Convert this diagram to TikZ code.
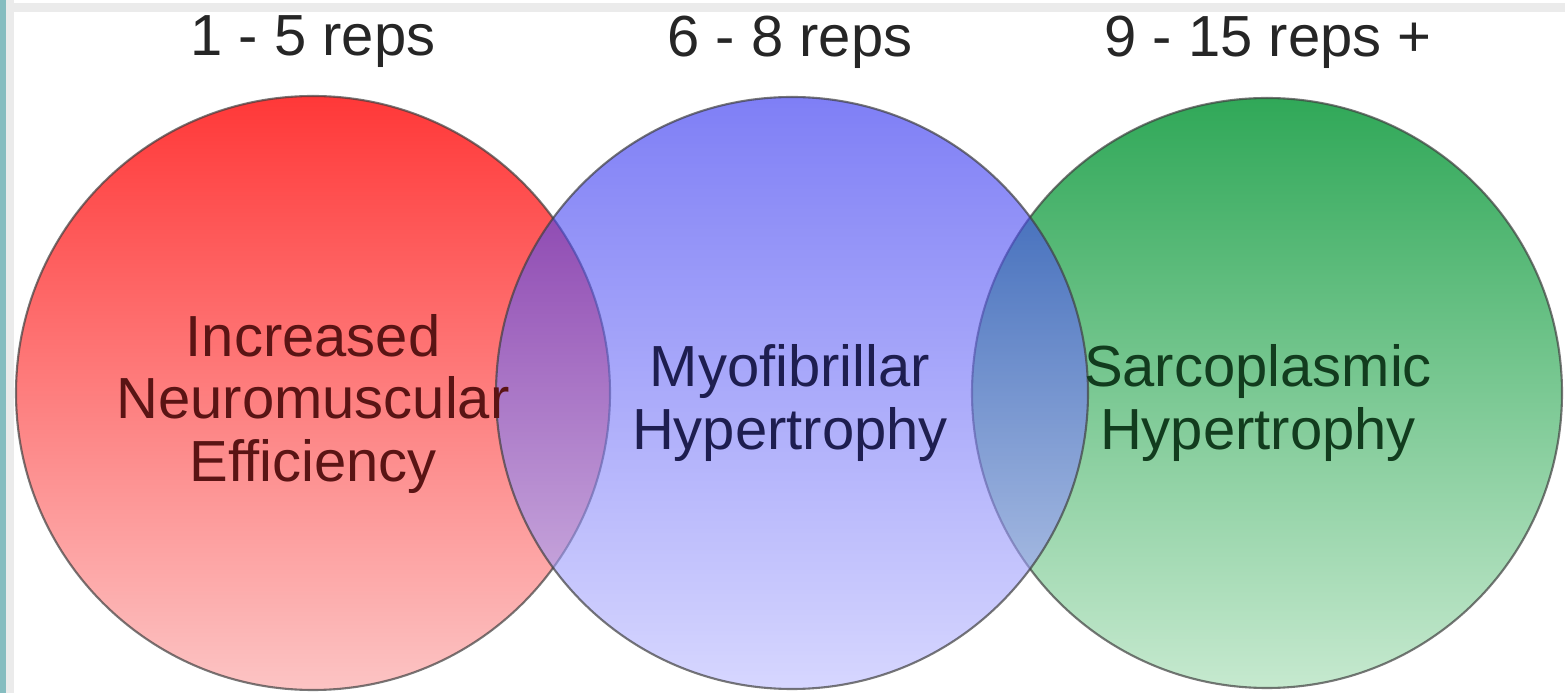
\documentclass[tikz,border=0pt]{standalone}
\usepackage{fontspec}
\setmainfont{Liberation Sans}
\usepackage{tikz}
\usetikzlibrary{positioning}
\definecolor{redtop}{HTML}{FF3838}
\definecolor{redbot}{HTML}{FCC4C4}
\definecolor{bluetop}{HTML}{2A2AF0}
\definecolor{bluebot}{HTML}{BCBCFF}
\definecolor{greentop}{HTML}{30A858}
\definecolor{greenbot}{HTML}{C6E9CF}
\definecolor{redink}{HTML}{5A1414}
\definecolor{blueink}{HTML}{1E1E50}
\definecolor{greenink}{HTML}{123C1E}
\definecolor{teal1}{HTML}{86BDC0}
\definecolor{rule1}{HTML}{EBEBEB}

\begin{document}
\begin{tikzpicture}[x=0.02cm,y=0.02cm,
    reps/.style={font=\fontsize{33}{36}\selectfont,text=black!85},
    label/.style={font=\fontsize{33}{35.5}\selectfont,align=center},
    rim/.style={draw=black!75,line width=1.2pt,draw opacity=0.7}]
  \useasboundingbox (0,0) rectangle (1565,693);
  % frame
  \fill[white] (0,0) rectangle (1565,693);
  \fill[rule1] (0,681) rectangle (1565,690);
  \fill[rule1] (6,0) rectangle (14,693);
  \fill[teal1] (0,0) rectangle (6,693);
  % circles
  \shade[top color=redtop,bottom color=redbot] (313,300) circle (297);
  \draw[rim] (313,300) circle (297);
  \shade[top color=greentop,bottom color=greenbot] (1267,300) circle (295);
  \draw[rim] (1267,300) circle (295);
  \shade[top color=bluetop,bottom color=bluebot,opacity=0.6] (792,300) circle (296);
  \draw[rim] (792,300) circle (296);
  % headings
  \node[reps] (low)  at (313,651) {1 - 5 reps};
  \node[reps] (mid)  at (790,651) {6 - 8 reps};
  \node[reps] (high) at (1268,651) {9 - 15 reps +};
  % effects
  \node[label,text=redink]   (neural) at (313,289) {Increased\\Neuromuscular\\Efficiency};
  \node[label,text=blueink]  (myo)    at (790,290) {Myofibrillar\\Hypertrophy};
  \node[label,text=greenink] (sarco)  at (1258,290) {Sarcoplasmic\\Hypertrophy};
\end{tikzpicture}
\end{document}
